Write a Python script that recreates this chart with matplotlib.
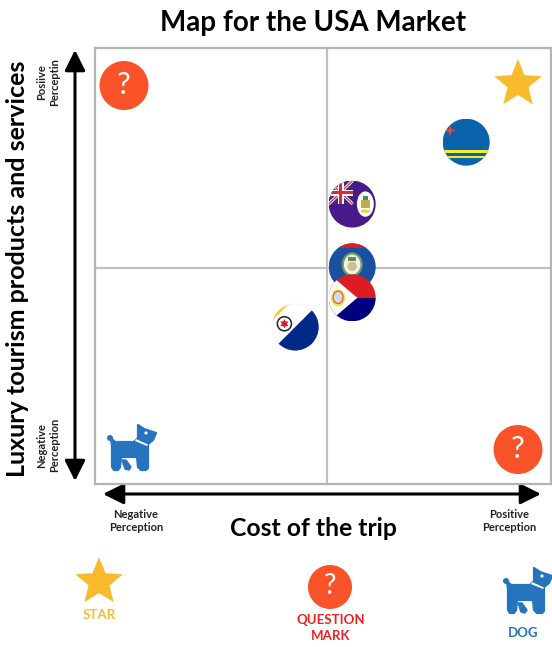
import matplotlib
matplotlib.use('Agg')
import matplotlib.pyplot as plt
from matplotlib.patches import Circle, Ellipse, PathPatch, Polygon, Rectangle
from matplotlib.path import Path
from matplotlib.transforms import Affine2D

plt.rcParams['font.family'] = ['Lato', 'DejaVu Sans']

W, H = 552, 647

# position of each destination on the two perception scales (0-10)
flag_names = ['aruba', 'cayman', 'belize', 'sint_maarten', 'bonaire']
cost_scores = [8.14, 5.64, 5.64, 5.64, 4.39]
luxury_scores = [7.84, 6.42, 4.98, 4.27, 3.60]
mid_cost = 5.09
mid_luxury = 4.95

title = 'Map for the USA Market'
x_label = 'Cost of the trip'
y_label = 'Luxury tourism products and services'

GOLD = '#f9bb2d'
RED = '#fa5229'
BLUE = '#2574bd'

fig = plt.figure(figsize=(W / 100, H / 100), dpi=100)

# pixel layer for arrows and text
bg = fig.add_axes([0, 0, 1, 1])
bg.set_xlim(0, W)
bg.set_ylim(H, 0)
bg.axis('off')

# quadrant box
ax = fig.add_axes([95 / W, 1 - 484 / H, 456 / W, 436 / H])
ax.set_xlim(0, 10)
ax.set_ylim(0, 10)
ax.set_facecolor('none')
ax.set_xticks([])
ax.set_yticks([])
for s in ax.spines.values():
    s.set_color('#b4b4b4')
    s.set_linewidth(1.6)
ax.axvline(mid_cost, color='#c0c0c0', lw=1.6, zorder=1)
ax.axhline(mid_luxury, color='#c0c0c0', lw=1.6, zorder=1)


def at(x, y, r=1.0):
    # local unit coordinates -> screen, centred on a pixel position
    return Affine2D().scale(r).translate(x, H - y)


def add(p, tr, clip=None, z=3):
    p.set_transform(tr)
    p.set_zorder(z)
    p.set_clip_on(clip is not None)
    ax.add_patch(p)
    if clip is not None:
        p.set_clip_path(clip)
    return p


def draw_star(x, y, r=25):
    add(PathPatch(Path.unit_regular_star(5, innerCircle=0.44), fc=GOLD, ec='none'), at(x, y, r))


def draw_question(x, y, r=24.5, size=22):
    add(Circle((0, 0), 1, fc=RED, ec='none'), at(x, y, r))
    ax.text(x, y - 0.5, '?', transform=bg.transData, color='white', fontsize=size,
            ha='center', va='center', zorder=4, clip_on=False)


def draw_dog(x, y):
    body = [(-21, 9), (-17, 5), (2, 5), (6, 9), (6, 22), (12, 18), (24, 14),
            (21, 7), (16, 3), (16, -21), (14, -23), (9, -23), (6, -20), (5, -10),
            (-11, -10), (-12, -20), (-14, -23), (-18, -23), (-20, -20), (-20, 1)]
    add(Polygon(body, closed=True, fc=BLUE, ec=BLUE, lw=1.6, joinstyle='round'), at(x, y))
    # tail tip
    add(Circle((-22, 9), 3, fc=BLUE, ec='none'), at(x, y))
    # small back leg, set apart from the belly
    add(Polygon([(-10, -13), (-6, -13), (-1, -20), (-3, -23), (-7, -22)], closed=True,
                fc=BLUE, ec=BLUE, lw=1, joinstyle='round'), at(x, y), z=3.2)
    # collar and eye
    add(Polygon([(3, 6), (15, 1), (16, 2.5), (4, 8)], closed=True, fc='white', ec='none'), at(x, y), z=3.2)
    add(Circle((14, 14), 1.6, fc='white', ec='none'), at(x, y), z=3.2)


def draw_aruba(tr, clip):
    add(Rectangle((-1, -1), 2, 2, fc='#0b63ab', ec='none'), tr, clip, 5)
    add(Rectangle((-1, -0.46), 2, 0.11, fc='#f4ee2a', ec='none'), tr, clip, 5.1)
    add(Rectangle((-1, -0.68), 2, 0.11, fc='#f4ee2a', ec='none'), tr, clip, 5.1)
    star_tr = Affine2D().scale(0.27).translate(-0.69, 0.5) + tr
    add(PathPatch(Path.unit_regular_star(4, innerCircle=0.28), fc='#ef4a2b', ec='none'), star_tr, clip, 5.2)


def draw_cayman(tr, clip):
    add(Rectangle((-1, -1), 2, 2, fc='#471a8a', ec='none'), tr, clip, 5)
    # union jack canton
    add(Rectangle((-1, 0), 1.02, 1, fc='#3a2a8c', ec='none'), tr, clip, 5.1)
    for a, b in [((-1, 1), (0.02, 0)), ((-1, 0), (0.02, 1))]:
        ax.plot([a[0], b[0]], [a[1], b[1]], color='white', lw=2.2, transform=tr, zorder=5.2,
                clip_path=clip, solid_capstyle='butt')
        ax.plot([a[0], b[0]], [a[1], b[1]], color='#e0233f', lw=0.9, transform=tr, zorder=5.3,
                clip_path=clip, solid_capstyle='butt')
    add(Rectangle((-0.62, 0), 0.26, 1, fc='white', ec='none'), tr, clip, 5.4)
    add(Rectangle((-1, 0.36), 1.02, 0.26, fc='white', ec='none'), tr, clip, 5.4)
    add(Rectangle((-0.56, 0), 0.14, 1, fc='#e0233f', ec='none'), tr, clip, 5.5)
    add(Rectangle((-1, 0.42), 1.02, 0.14, fc='#e0233f', ec='none'), tr, clip, 5.5)
    # crest
    add(Ellipse((0.56, 0), 0.72, 1.08, fc='white', ec='none'), tr, clip, 5.6)
    add(Rectangle((0.38, -0.18), 0.36, 0.36, fc='#c9a94a', ec='none'), tr, clip, 5.7)
    add(Rectangle((0.44, 0.18), 0.24, 0.16, fc='#3f8f6a', ec='none'), tr, clip, 5.7)
    add(Ellipse((0.56, -0.3), 0.4, 0.14, fc='#e6d232', ec='none'), tr, clip, 5.7)


def draw_belize(tr, clip):
    add(Rectangle((-1, -1), 2, 2, fc='#1b4f9f', ec='none'), tr, clip, 5)
    add(Rectangle((-1, 0.8), 2, 0.2, fc='#d81f26', ec='none'), tr, clip, 5.1)
    add(Rectangle((-1, -1), 2, 0.2, fc='#d81f26', ec='none'), tr, clip, 5.1)
    add(Ellipse((0, 0.1), 0.8, 0.94, fc='#f2f2e6', ec='#6e9e62', lw=1.6), tr, clip, 5.2)
    add(Ellipse((0, 0.02), 0.4, 0.4, fc='#cdbf9a', ec='none'), tr, clip, 5.3)
    add(Rectangle((-0.18, 0.25), 0.36, 0.18, fc='#5f8f55', ec='none'), tr, clip, 5.3)


def draw_sint_maarten(tr, clip):
    add(Rectangle((-1, 0), 2, 1, fc='#dc1c22', ec='none'), tr, clip, 6)
    add(Rectangle((-1, -1), 2, 1, fc='#00007f', ec='none'), tr, clip, 6)
    add(Polygon([(0.22, 0), (-1.1, 1.12), (-1.1, -1.12)], closed=True, fc='white', ec='none'), tr, clip, 6.1)
    add(Ellipse((-0.6, 0), 0.6, 0.72, fc='#f3df4a', ec='none'), tr, clip, 6.2)
    add(Ellipse((-0.6, 0.02), 0.42, 0.52, fc='#d9d9e2', ec='#d8574a', lw=0.8), tr, clip, 6.3)


def draw_bonaire(tr, clip):
    add(Rectangle((-1, -1), 2, 2, fc='white', ec='none'), tr, clip, 5)
    add(Polygon([(-1.1, -1.1), (1.1, 1.1), (1.1, -1.1)], closed=True, fc='#012a87', ec='none'), tr, clip, 5.1)
    add(Polygon([(-1.1, 0.15), (-0.15, 1.1), (-1.1, 1.1)], closed=True, fc='#f5d02f', ec='none'), tr, clip, 5.1)
    add(Circle((-0.46, 0.14), 0.3, fc='white', ec='#222222', lw=1.1), tr, clip, 5.2)
    star_tr = Affine2D().scale(0.2).translate(-0.46, 0.14) + tr
    add(PathPatch(Path.unit_regular_star(6, innerCircle=0.55), fc='#d81f26', ec='none'), star_tr, clip, 5.3)
    # faint rim on the white part
    add(Circle((0, 0), 0.99, fc='none', ec='#ececec', lw=0.5), tr, clip, 5.05)


flag_painters = {'aruba': draw_aruba, 'cayman': draw_cayman, 'belize': draw_belize,
                 'sint_maarten': draw_sint_maarten, 'bonaire': draw_bonaire}

# flags, placed from their scores
for name, cx, cy in zip(flag_names, cost_scores, luxury_scores):
    px, py = ax.transData.transform((cx, cy))
    tr = Affine2D().scale(23.5).translate(px, py)
    rim = Circle((0, 0), 1, fc='none', ec='none', transform=tr)
    flag_painters[name](tr, rim)

# quadrant icons
draw_question(124, 85.5)
draw_star(518, 84)
draw_dog(132, 447)
draw_question(518, 449.5)

# key under the chart
draw_star(99, 582)
draw_question(330, 587, r=22, size=20)
draw_dog(528, 590)

# perception arrows
arrow = dict(arrowstyle='<|-|>,head_length=1.0,head_width=0.5', color='black', lw=2.2,
             shrinkA=0, shrinkB=0, mutation_scale=12.5)
bg.annotate('', xy=(75, 50), xytext=(75, 481), arrowprops=arrow)
bg.annotate('', xy=(103, 494), xytext=(541, 494), arrowprops=arrow)

# titles
bg.text(313, 23, title, fontsize=20, fontweight='bold', ha='center', va='center')
bg.text(313, 529, x_label, fontsize=17.8, fontweight='bold', ha='center', va='center')
bg.text(18, 269, y_label, fontsize=18, fontweight='bold', ha='center', va='center', rotation=90)

# scale end labels
small = dict(fontsize=8, fontweight='bold', color='#222222', ha='center', va='center', linespacing=1.2)
bg.text(136, 521, 'Negative\nPerception', **small)
bg.text(509, 521, 'Positive\nPerception', **small)
bg.text(48, 82, 'Posiive\nPerceptin', rotation=90, **small)
bg.text(48, 445, 'Negative\nPerception', rotation=90, **small)

# key labels
bg.text(99, 615, 'STAR', color=GOLD, fontsize=9.5, fontweight='bold', ha='center', va='center')
bg.text(331, 628, 'QUESTION\nMARK', color='#f01f1f', fontsize=9.5, fontweight='bold', ha='center',
        va='center', linespacing=1.3)
bg.text(523, 633, 'DOG', color=BLUE, fontsize=9.5, fontweight='bold', ha='center', va='center')

fig.savefig('out.png', dpi=100, facecolor='white')
